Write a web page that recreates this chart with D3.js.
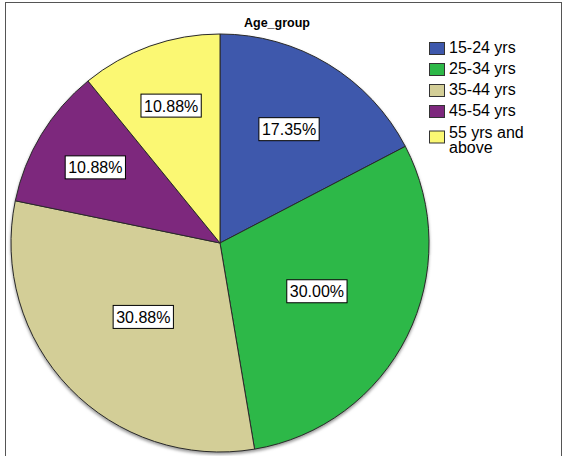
<!DOCTYPE html>
<html><head><meta charset="utf-8">
<script src="https://cdn.jsdelivr.net/npm/d3@7"></script>
<style>html,body{margin:0;padding:0;background:#fff;}svg{display:block;font-family:Arial,"Liberation Sans",sans-serif;}</style>
</head><body>
<svg id="c" width="563" height="456"></svg>
<script>
const categories = ["15-24 yrs", "25-34 yrs", "35-44 yrs", "45-54 yrs", "55 yrs and above"];
const legendLabels = [["15-24 yrs"], ["25-34 yrs"], ["35-44 yrs"], ["45-54 yrs"], ["55 yrs and", "above"]];
const values = [17.35, 30.00, 30.88, 10.88, 10.88];
const colors = ["#3e58ac", "#2db848", "#d3ce97", "#7d287d", "#fbf873"];
const title = "Age_group";

const svg = d3.select("#c");
// frame
svg.append("rect").attr("x", 5.5).attr("y", 2.5).attr("width", 556).attr("height", 470)
  .attr("fill", "none").attr("stroke", "#555").attr("stroke-width", 1);

svg.append("text").attr("x", 277).attr("y", 27).attr("text-anchor", "middle")
  .attr("font-size", 12.5).attr("font-weight", "bold").attr("fill", "#000").text(title);

const cx = 220, cy = 243, R = 209;
const g = svg.append("g").attr("transform", `translate(${cx},${cy})`);

// soft shadow
const defs = svg.append("defs");
const f = defs.append("filter").attr("id", "blur").attr("x", "-10%").attr("y", "-10%").attr("width", "120%").attr("height", "120%");
f.append("feGaussianBlur").attr("stdDeviation", 1.5);
g.append("circle").attr("cx", 0).attr("cy", 2).attr("r", R + 0.5).attr("fill", "#9a9a9a").attr("filter", "url(#blur)");

const pie = d3.pie().sort(null).value(d => d)(values);
const arc = d3.arc().innerRadius(0).outerRadius(R);
g.selectAll("path.slice").data(pie).join("path").attr("class", "slice")
  .attr("d", arc).attr("fill", (d, i) => colors[i])
  .attr("stroke", "#2a2a2a").attr("stroke-width", 1).attr("stroke-linejoin", "round");

// labels: radius shrinks as the slice grows
const fmt = d => d.toFixed(2) + "%";
pie.forEach((d, i) => {
  const mid = (d.startAngle + d.endAngle) / 2;
  const dist = R * (0.80 - 0.0094 * values[i]);
  const x = dist * Math.sin(mid), y = -dist * Math.cos(mid);
  const lg = g.append("g").attr("transform", `translate(${x},${y})`);
  const t = lg.append("text").attr("text-anchor", "middle").attr("y", 6)
    .attr("font-size", 16).attr("fill", "#000").text(fmt(values[i]));
  const bb = t.node().getBBox();
  lg.insert("rect", "text").attr("x", bb.x - 3).attr("y", -11.5).attr("width", bb.width + 6).attr("height", 23)
    .attr("fill", "#fff").attr("stroke", "#000").attr("stroke-width", 1);
});

// legend
const lx = 429, ly0 = 42, step = 21;
legendLabels.forEach((lines, i) => {
  const y = ly0 + i * step + (i === 4 ? 1.5 : 0);
  svg.append("rect").attr("x", lx + 0.5).attr("y", y + 0.5 + (i === 4 ? 3 : 0)).attr("width", 15).attr("height", 12)
    .attr("fill", colors[i]).attr("stroke", "#333").attr("stroke-width", 1);
  lines.forEach((s, j) => svg.append("text").attr("x", 449).attr("y", y + 10.5 + j * 14.5)
    .attr("font-size", j === 0 && lines.length > 1 ? 16 : 16).attr("fill", "#000").text(s));
});
</script>
</body></html>
